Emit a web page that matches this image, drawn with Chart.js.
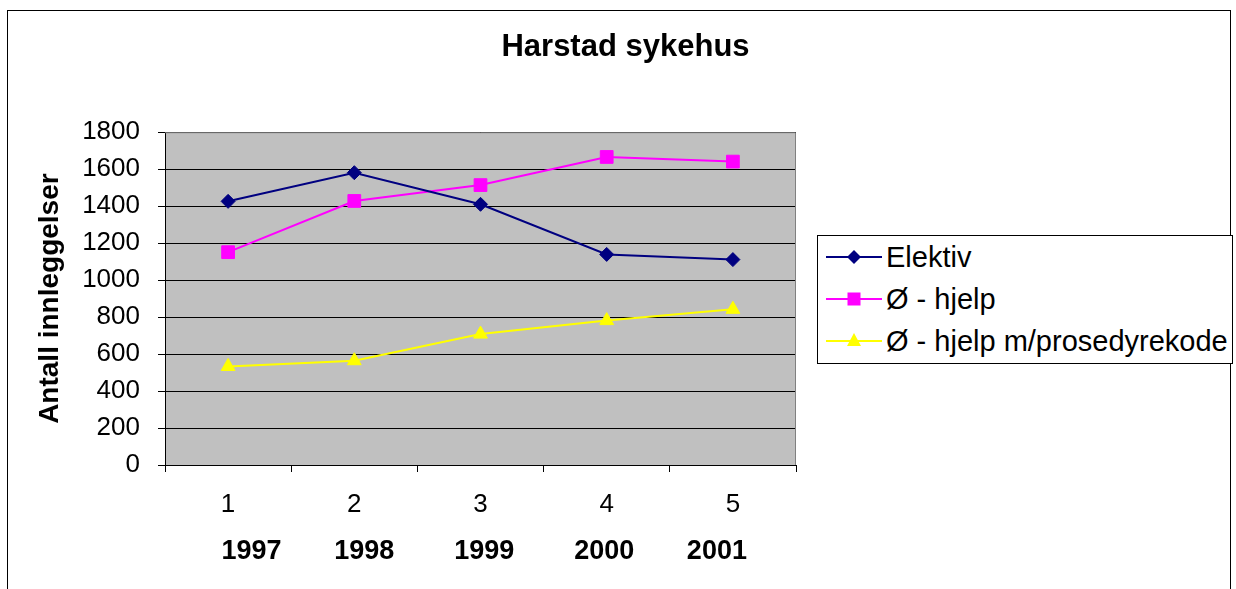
<!DOCTYPE html>
<html>
<head>
<meta charset="utf-8">
<script src="https://cdn.jsdelivr.net/npm/chart.js@4.4.1/dist/chart.umd.min.js"></script>
<style>
    body { margin: 0; background: #fff; }
    #wrap { position: relative; width: 1236px; height: 589px; overflow: hidden; }
    #ramme { position: absolute; left: 7px; top: 10px; width: 1222px; height: 600px; border: 1px solid #000; }
    #graf { position: absolute; left: 0; top: 0; }
    #legende {
        position: absolute; left: 817px; top: 235px; width: 414px; height: 127px;
        border: 1px solid #000; background: #fff;
        font-family: 'Liberation Sans', Arial, sans-serif; font-size: 29px; color: #000;
    }
    #legende .rad { height: 42px; display: flex; align-items: center; }
    #legende svg { margin-left: 8px; margin-right: 4px; }
</style>
</head>
<body>
<div id="wrap">
    <div id="ramme"></div>
    <canvas id="graf" width="1236" height="589"></canvas>
    <div id="legende"></div>
</div>
<script>
const kategorier = ['1', '2', '3', '4', '5'];
const aar = ['1997', '1998', '1999', '2000', '2001'];
const elektiv = [1426, 1581, 1410, 1139, 1111];
const oHjelp = [1151, 1428, 1514, 1666, 1641];
const oHjelpProsedyre = [533, 564, 708, 781, 842];
const yMax = 1800;
const yStep = 200;

Chart.defaults.font.family = "'Liberation Sans', Arial, sans-serif";
Chart.defaults.color = '#000';

// årstallene står som aksetittel under tallene, med mellomrom imellom
const mellomrom = [7, 8, 8, 7];
let aarTekst = ' ' + aar[0];
for (let i = 1; i < aar.length; i++) {
    aarTekst += ' '.repeat(mellomrom[i - 1]) + aar[i];
}

const serier = [
    { label: 'Elektiv', data: elektiv, farge: '#000080', stil: 'rectRot', r: 7 },
    { label: 'Ø - hjelp', data: oHjelp, farge: '#ff00ff', stil: 'rect', r: 9 },
    { label: 'Ø - hjelp m/prosedyrekode', data: oHjelpProsedyre, farge: '#ffff00', stil: 'triangle', r: 8 }
];

// grå bakgrunn og grå kant øverst/høyre i plottet
const plotBakgrunn = {
    id: 'plotBakgrunn',
    beforeDraw(chart) {
        const { ctx, chartArea: a } = chart;
        ctx.save();
        ctx.fillStyle = '#c0c0c0';
        ctx.fillRect(a.left, a.top, a.width, a.height);
        ctx.restore();
    },
    beforeDatasetsDraw(chart) {
        const { ctx, chartArea: a } = chart;
        ctx.save();
        ctx.strokeStyle = '#808080';
        ctx.lineWidth = 1;
        ctx.beginPath();
        ctx.moveTo(a.left, a.top + 0.5);
        ctx.lineTo(a.right - 0.5, a.top + 0.5);
        ctx.lineTo(a.right - 0.5, a.bottom);
        ctx.stroke();
        ctx.restore();
    }
};

const ctx = document.getElementById('graf').getContext('2d');
new Chart(ctx, {
    type: 'line',
    data: {
        labels: kategorier,
        datasets: serier.map(s => ({
            label: s.label,
            data: s.data,
            borderColor: s.farge,
            backgroundColor: s.farge,
            borderWidth: 2,
            tension: 0,
            pointStyle: s.stil,
            pointRadius: s.r,
            pointBackgroundColor: s.farge,
            pointBorderColor: s.farge,
            pointBorderWidth: 1,
            yAxisID: 'y'
        }))
    },
    options: {
        responsive: false,
        animation: false,
        layout: { padding: { left: 15, right: 0, top: 0, bottom: 0 } },
        plugins: {
            legend: { display: false },
            tooltip: { enabled: false },
            title: {
                display: true,
                text: 'Harstad sykehus',
                font: { size: 31, weight: 'bold' },
                color: '#000',
                padding: { top: 29, bottom: 66 }
            }
        },
        scales: {
            x: {
                type: 'category',
                offset: true,
                grid: { offset: true, drawOnChartArea: false, drawTicks: true, tickLength: 7, color: '#000' },
                border: { color: '#000', width: 1 },
                ticks: { font: { size: 26 }, padding: 17, color: '#000' },
                title: {
                    display: true,
                    text: aarTekst,
                    font: { size: 27, weight: 'bold' },
                    color: '#000',
                    padding: { top: 0, bottom: 21 }
                },
                afterFit(scale) { scale.height = 124; }
            },
            y: {
                min: 0,
                max: yMax,
                ticks: {
                    stepSize: yStep,
                    font: { size: 26 },
                    padding: 18,
                    color: '#000',
                    callback: function(value) {
                        return String(value);
                    }
                },
                grid: { color: '#000', lineWidth: 1, tickLength: 7 },
                border: { color: '#000', width: 1 },
                title: {
                    display: true,
                    text: 'Antall innleggelser',
                    font: { size: 28, weight: 'bold' },
                    color: '#000',
                    padding: { top: 18, bottom: 0 }
                },
                afterFit(scale) { scale.width = 150; }
            },
            // tom akse til høyre som holder plass til forklaringen
            plass: {
                position: 'right',
                display: true,
                grid: { display: false },
                border: { display: false },
                ticks: { display: false },
                afterFit(scale) { scale.width = 440; }
            }
        }
    },
    plugins: [plotBakgrunn]
});

// forklaring med linje og markør
function markor(stil, farge) {
    const cx = 28, cy = 21;
    let form = '';
    if (stil === 'rectRot') {
        form = `<polygon points="${cx - 7},${cy} ${cx},${cy - 7} ${cx + 7},${cy} ${cx},${cy + 7}" fill="${farge}"/>`;
    } else if (stil === 'rect') {
        form = `<rect x="${cx - 6.5}" y="${cy - 6.5}" width="13" height="13" fill="${farge}"/>`;
    } else {
        form = `<polygon points="${cx},${cy - 8} ${cx + 7},${cy + 5} ${cx - 7},${cy + 5}" fill="${farge}"/>`;
    }
    return `<svg width="56" height="42"><line x1="0" y1="${cy}" x2="56" y2="${cy}" stroke="${farge}" stroke-width="2"/>${form}</svg>`;
}
document.getElementById('legende').innerHTML = serier
    .map(s => `<div class="rad">${markor(s.stil, s.farge)}<span>${s.label}</span></div>`)
    .join('');
</script>
</body>
</html>
